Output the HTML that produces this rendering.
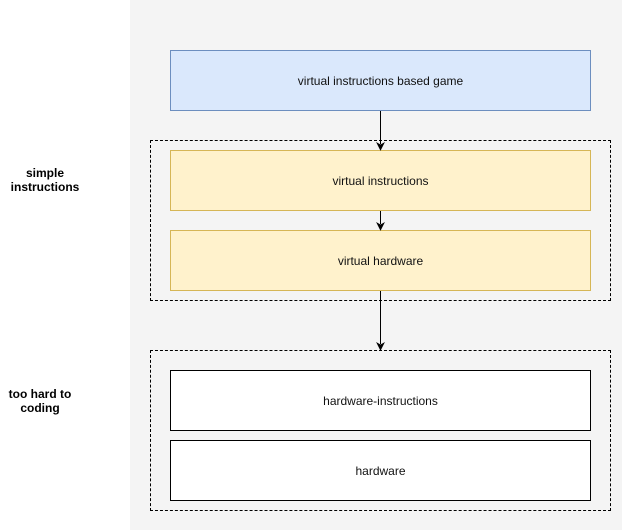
<!DOCTYPE html>
<html><head><meta charset="utf-8"><style>
html,body{margin:0;padding:0;background:#fff;}
body{width:622px;height:531px;position:relative;overflow:hidden;font-family:"Liberation Sans",Helvetica,Arial,sans-serif;}
.a{position:absolute;box-sizing:border-box;}
.box{display:flex;align-items:center;justify-content:center;font-size:12px;color:#111;}
.lbl{position:absolute;font-size:12px;font-weight:bold;text-align:center;line-height:14px;color:#000;}
</style></head><body>
<div class="a" style="left:130px;top:0;width:492px;height:530px;background:#f4f4f4;"></div>
<div class="a box" style="left:170px;top:50px;width:421px;height:61px;background:#dae8fc;border:1px solid #6c8ebf;">virtual instructions based game</div>
<div class="a" style="left:150px;top:140px;width:461px;height:161px;border:1px dashed #000;"></div>
<div class="a box" style="left:170px;top:150px;width:421px;height:61px;background:#fff2cc;border:1px solid #d6b656;">virtual instructions</div>
<div class="a box" style="left:170px;top:230px;width:421px;height:61px;background:#fff2cc;border:1px solid #d6b656;">virtual hardware</div>
<div class="a" style="left:150px;top:350px;width:461px;height:161px;border:1px dashed #000;"></div>
<div class="a box" style="left:170px;top:370px;width:421px;height:61px;background:#fff;border:1px solid #000;">hardware-instructions</div>
<div class="a box" style="left:170px;top:440px;width:421px;height:61px;background:#fff;border:1px solid #000;">hardware</div>
<svg class="a" style="left:0;top:0" width="622" height="531">
<g stroke="#000" stroke-width="1" fill="#000">
<line x1="380.5" y1="111" x2="380.5" y2="144"/>
<path d="M377 143 L380.5 150 L384 143 L380.5 145 Z" stroke-width="0.8"/>
<line x1="380.5" y1="211" x2="380.5" y2="224"/>
<path d="M377 223 L380.5 230 L384 223 L380.5 225 Z" stroke-width="0.8"/>
<line x1="380.5" y1="291" x2="380.5" y2="344"/>
<path d="M377 343 L380.5 350 L384 343 L380.5 345 Z" stroke-width="0.8"/>
</g></svg>
<div class="lbl" style="left:0;top:166px;width:90px;">simple<br>instructions</div>
<div class="lbl" style="left:0;top:387px;width:80px;">too hard to<br>coding</div>
</body></html>
